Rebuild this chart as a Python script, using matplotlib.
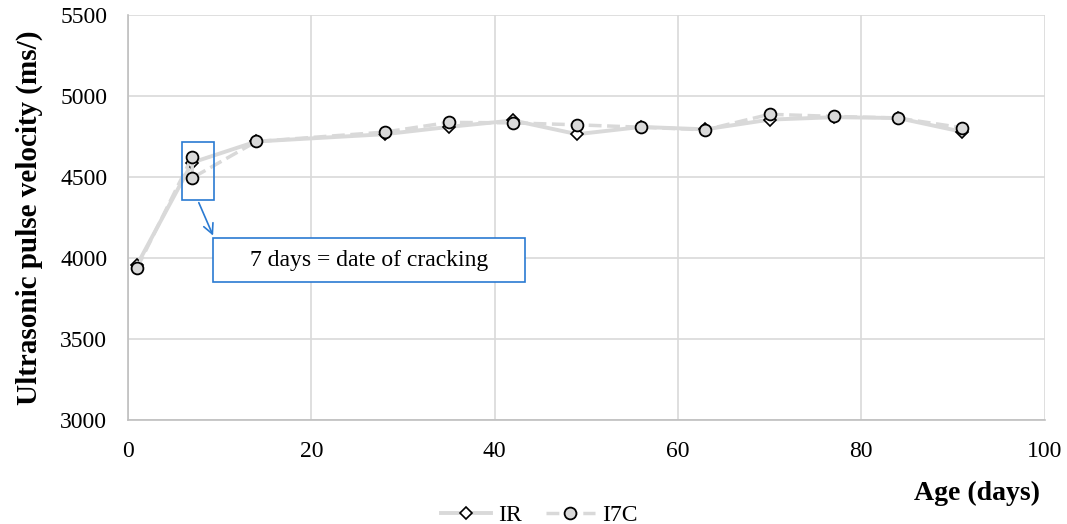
import matplotlib.pyplot as plt
from matplotlib.patches import Rectangle

days_ir = [1, 7, 14, 28, 35, 42, 49, 56, 63, 70, 77, 84, 91]
upv_ir = [3960, 4590, 4720, 4765, 4810, 4850, 4765, 4810, 4795, 4855, 4870, 4865, 4780]

# I7C has two readings on day 7 (before / after cracking)
days_i7c = [1, 7, 7, 14, 28, 35, 42, 49, 56, 63, 70, 77, 84, 91]
upv_i7c = [3940, 4625, 4495, 4720, 4778, 4838, 4835, 4823, 4808, 4792, 4888, 4875, 4865, 4805]

plt.rcParams['font.family'] = ['Liberation Serif', 'DejaVu Serif']

fig = plt.figure(figsize=(10.67, 5.24), dpi=100)
ax = fig.add_axes([0.120, 0.1985, 0.859, 0.7725])

line_col = '#d9d9d9'
ax.plot(days_ir, upv_ir, '-', color=line_col, lw=2.8, marker='D', markersize=6.5,
        markerfacecolor='white', markeredgecolor='black', markeredgewidth=1.2,
        label='IR', zorder=3)
ax.plot(days_i7c, upv_i7c, '--', color=line_col, lw=2.5, marker='o', markersize=8.5,
        markerfacecolor=line_col, markeredgecolor='black', markeredgewidth=1.3,
        label='I7C', zorder=4)

ax.set_xlim(0, 100)
ax.set_ylim(3000, 5500)
ax.set_xticks(range(0, 101, 20))
ax.set_yticks(range(3000, 5501, 500))
ax.grid(True, color='#d9d9d9', lw=1.2)
ax.set_axisbelow(True)
for s in ['top', 'right']:
    ax.spines[s].set_visible(False)
for s in ['left', 'bottom']:
    ax.spines[s].set_color('#bfbfbf')
    ax.spines[s].set_linewidth(1.2)
ax.tick_params(length=0, labelsize=17)
ax.tick_params(axis='y', pad=15)
ax.tick_params(axis='x', pad=15)

ax.set_ylabel('Ultrasonic pulse velocity (ms/)', fontsize=21, fontweight='bold', labelpad=12)
fig.text(0.975, 0.058, 'Age (days)', fontsize=20, fontweight='bold', ha='right', va='center')

# annotation: box around the day-7 readings, arrow to the text box
ax.add_patch(Rectangle((5.9, 4358), 3.5, 357, fill=False, edgecolor='#2a7ad2', lw=1.2, zorder=5))
ax.annotate('', xy=(9.4, 4123), xytext=(7.6, 4358),
            arrowprops=dict(arrowstyle='->', color='#2a7ad2', lw=1.2, mutation_scale=18), zorder=5)
ax.add_patch(Rectangle((9.3, 3852), 34.0, 271, fill=True, facecolor='white',
                       edgecolor='#2a7ad2', lw=1.2, zorder=5))
ax.text(26.3, 3987, '7 days = date of cracking', fontsize=17, ha='center', va='center', zorder=6)

ax.legend(loc='center', bbox_to_anchor=(0.449, -0.235), ncol=2, frameon=False,
          fontsize=17, handlelength=2.1, columnspacing=1.0, handletextpad=0.3)

fig.savefig('out.png', dpi=100)
